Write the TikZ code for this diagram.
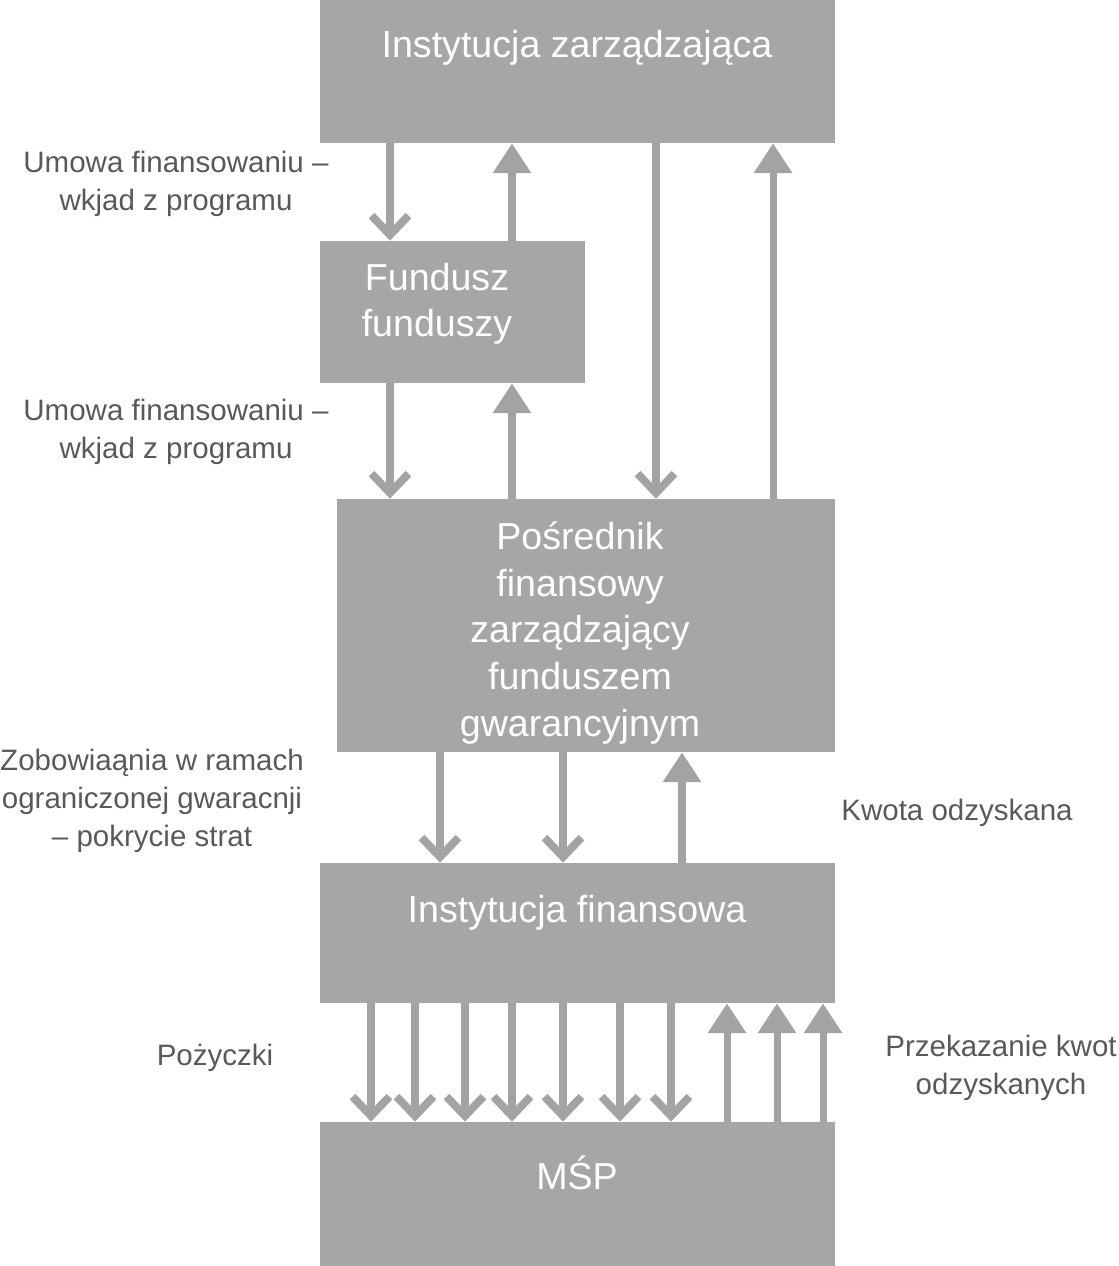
\documentclass[tikz,border=0pt]{standalone}
\usepackage{fontspec}
\setmainfont{Liberation Sans}
\usetikzlibrary{arrows.meta}
\definecolor{Bx}{HTML}{A6A6A6}
\definecolor{Ar}{HTML}{A3A3A3}
\definecolor{Tx}{HTML}{595959}
\tikzset{
  blk/.style={rectangle, fill=Bx, inner sep=0pt},
  btxt/.style={text=white, align=center, font=\fontsize{21.4}{26.5}\selectfont},
  lab/.style={text=Tx, align=center, font=\fontsize{16.8}{21.6}\selectfont},
  dn/.style={draw=Ar, line width=4pt, -{Straight Barb[length=11pt, width=21pt, line width=4.5pt]}},
  up/.style={draw=Ar, line width=4pt, -{Triangle[length=17pt, width=21pt]}},
}
\newcommand{\dnar}[3]{\draw[dn] (#2.south -| #1,0) -- (#3.north -| #1,0);}
\newcommand{\upar}[3]{\draw[up] (#2.north -| #1,0) -- (#3.south -| #1,0);}

\begin{document}
\begin{tikzpicture}[x=0.02cm, y=-0.02cm]
  \useasboundingbox (0,0) rectangle (1118,1266);
  % blocks
  \node[blk, minimum width=10.3cm, minimum height=2.86cm] (iz) at (577.5,71.5) {};
  \node[blk, minimum width=5.3cm, minimum height=2.84cm] (ff) at (452.5,312) {};
  \node[blk, minimum width=9.96cm, minimum height=5.06cm] (pf) at (586,625.5) {};
  \node[blk, minimum width=10.3cm, minimum height=2.8cm] (instf) at (577.5,933) {};
  \node[blk, minimum width=10.3cm, minimum height=2.88cm] (msp) at (577.5,1194) {};
  \node[btxt] (izt) at (577,48) {Instytucja zarządzająca};
  \node[btxt] (fft) at (437,304) {Fundusz\\funduszy};
  \node[btxt] (pft) at (580,633) {Pośrednik\\finansowy\\zarządzający\\funduszem\\gwarancyjnym};
  \node[btxt] (instft) at (577,913) {Instytucja finansowa};
  \node[btxt] (mspt) at (577,1173) {MŚP};
  % labels
  \node[lab] (l1) at (176,184) {Umowa finansowaniu –\\wkjad z programu};
  \node[lab] (l2) at (176,432) {Umowa finansowaniu –\\wkjad z programu};
  \node[lab] (l3) at (152,801) {Zobowiaąnia w ramach\\ograniczonej gwaracnji\\– pokrycie strat};
  \node[lab] (l4) at (957,813) {Kwota odzyskana};
  \node[lab] (l5) at (215,1058) {Pożyczki};
  \node[lab] (l6) at (1001,1068) {Przekazanie kwot\\odzyskanych};
  % arrows
  \dnar{390}{iz}{ff}
  \upar{512}{ff}{iz}
  \dnar{390}{ff}{pf}
  \upar{512}{pf}{ff}
  \dnar{656}{iz}{pf}
  \upar{773}{pf}{iz}
  \dnar{440}{pf}{instf}
  \dnar{563}{pf}{instf}
  \upar{682}{instf}{pf}
  \foreach \xx in {371,415,465,512,563,620,671} {\dnar{\xx}{instf}{msp}}
  \foreach \xx in {727,777,823} {\upar{\xx}{msp}{instf}}
\end{tikzpicture}
\end{document}
